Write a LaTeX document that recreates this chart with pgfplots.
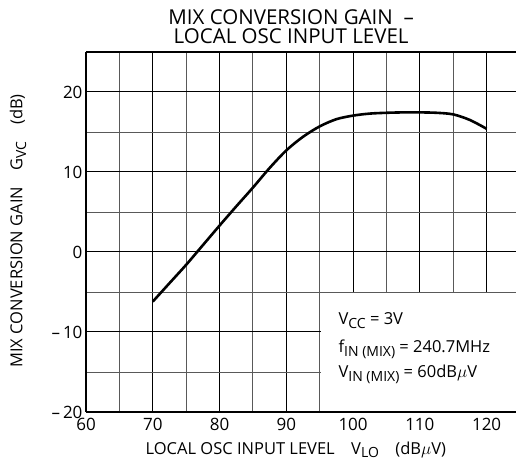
\documentclass[border=0pt]{standalone}
\usepackage{pgfplots}
\pgfplotsset{compat=1.18}
\usepackage{fontspec}
\setmainfont{Open Sans}
\newcommand{\sub}[1]{\raisebox{-0.45ex}{\fontsize{14}{16}\selectfont #1}}
\begin{document}
\begin{tikzpicture}
\begin{axis}[
  scale only axis,
  width=430pt, height=360pt,
  xmin=60, xmax=124.4, ymin=-20, ymax=25,
  axis x line*=box, axis y line*=left,
  axis line style={line width=2pt, black},
  xtick={60,70,...,120}, minor xtick={65,75,...,120},
  ytick={-20,-10,...,20}, minor ytick={-15,-5,...,15},
  yticklabels={{–\,20},{–\,10},0,10,20},
  grid=both,
  major grid style={line width=1pt, black},
  minor grid style={line width=0.9pt, black!65},
  major tick length=0pt, minor tick length=0pt,
  tick label style={font=\fontsize{17}{19}\selectfont},
  /pgf/number format/assume math mode=true,
  xticklabel style={yshift=-3pt},
  title={MIX CONVERSION GAIN \ –\\LOCAL OSC INPUT LEVEL},
  title style={at={(axis description cs:0.477,1.055)}, anchor=center, align=center, font=\fontsize{20.5}{19}\selectfont},
  xlabel={LOCAL OSC INPUT LEVEL\quad V\sub{LO}\quad (dB$\mu$V)},
  xlabel style={at={(axis description cs:0.488,-0.105)}, anchor=center, font=\fontsize{16.5}{19}\selectfont},
  ylabel={MIX CONVERSION GAIN\quad G\sub{VC}\quad (dB)},
  ylabel style={at={(axis description cs:-0.158,0.503)}, anchor=center, font=\fontsize{16.5}{19}\selectfont},
  clip=false,
]
\fill[white] (axis cs:95.15,-19.9) rectangle (axis cs:124.4,-5.1);
\addplot[black, line width=2.6pt, smooth, tension=0.5] coordinates {
 (70,-6.2) (72.5,-3.9) (75,-1.6) (77.5,0.85) (80,3.3) (82.5,5.7) (85,8.05)
 (87.5,10.5) (90,12.7) (92.5,14.4) (95,15.7) (97.5,16.6) (100,17.05)
 (102.5,17.3) (105,17.4) (107.5,17.45) (110,17.45) (112.5,17.4)
 (115,17.2) (117.5,16.5) (120,15.4)};
\node[anchor=base west, font=\fontsize{16.5}{19}\selectfont] at (axis cs:97.3,-9.04) {V\sub{CC} = 3V};
\node[anchor=base west, font=\fontsize{16.5}{19}\selectfont] at (axis cs:97.3,-12.54) {f\sub{IN (MIX)} = 240.7MHz};
\node[anchor=base west, font=\fontsize{16.5}{19}\selectfont] at (axis cs:97.3,-15.66) {V\sub{IN (MIX)} = 60dB$\mu$V};
\end{axis}
\pgfresetboundingbox
\path ([xshift=-86pt,yshift=-62pt]current axis.south west) rectangle ([yshift=52pt]current axis.north east);
\end{tikzpicture}
\end{document}
